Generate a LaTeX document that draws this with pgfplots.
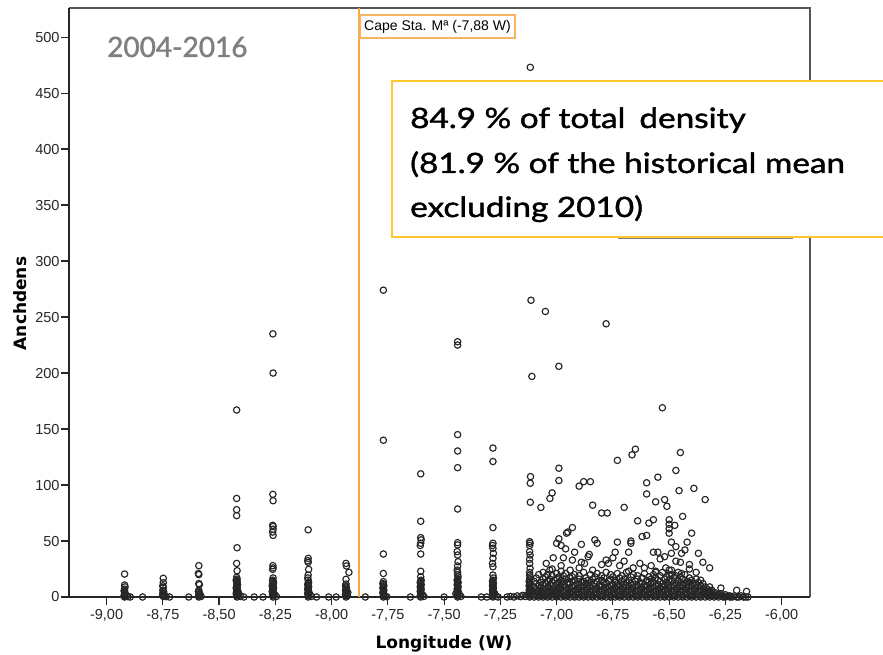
\documentclass[border=0pt]{standalone}
\usepackage{pgfplots}
\pgfplotsset{compat=1.18}
\usepackage{pgfplotstable}
\usepackage{fontspec}
\setmainfont{Liberation Sans}
\newfontfamily\boxfont{Lato}[FakeStretch=1.19, FakeBold=1.5]
\newfontfamily\yearfont{Lato}[FakeBold=1.5]
\newfontfamily\labfont{DejaVu Sans}
\definecolor{orangeline}{HTML}{F5A742}
\definecolor{goldbox}{HTML}{FFC72C}
\definecolor{framegray}{HTML}{555555}
\definecolor{titlegray}{HTML}{7F7F7F}

% stations west of the cape
\pgfplotstableread[row sep=\\]{
x y\\
-8.92 20.5\\ -8.92 10.7\\ -8.918 9\\ -8.92 7\\ -8.922 5.5\\ -8.92 4.5\\ -8.918 3.5\\ -8.92 2.5\\ -8.922 1.5\\ -8.92 0.8\\ -8.92 0\\ -8.912 1\\ -8.905 0.3\\ -8.895 0\\ -8.84 0\\
-8.748 16.7\\ -8.748 12.8\\ -8.75 10\\ -8.748 8.6\\ -8.75 6\\ -8.746 4.5\\ -8.75 3.5\\ -8.748 2.5\\ -8.75 1.5\\ -8.748 0.5\\ -8.742 1\\ -8.735 0.3\\ -8.72 0\\
-8.635 0\\ -8.59 28\\ -8.592 21\\ -8.59 20\\ -8.59 12\\ -8.588 11\\ -8.59 6\\ -8.592 5\\ -8.59 4\\ -8.588 3\\ -8.59 2\\ -8.59 1\\ -8.59 0\\ -8.585 2.5\\ -8.58 0.5\\
-8.422 167\\ -8.422 88\\ -8.422 78\\ -8.422 72.7\\ -8.42 44\\ -8.422 30\\ -8.42 23.5\\ -8.422 17.6\\ -8.42 16\\ -8.424 15\\ -8.42 14\\ -8.422 13\\ -8.42 12\\ -8.418 11\\ -8.422 10\\ -8.42 9\\ -8.424 8\\ -8.42 7\\ -8.418 6\\ -8.422 5\\ -8.42 4\\ -8.424 3\\ -8.42 2\\ -8.418 1\\ -8.42 0\\ -8.412 3\\ -8.405 0.5\\ -8.39 0\\ -8.344 0\\ -8.305 0\\
-8.261 235\\ -8.26 200\\ -8.261 91.7\\ -8.26 86\\ -8.262 64\\ -8.26 63\\ -8.26 60.5\\ -8.262 58\\ -8.26 55\\ -8.261 28\\ -8.26 26\\ -8.262 24.7\\ -8.26 17\\ -8.262 15\\ -8.26 14\\ -8.258 13\\ -8.262 12\\ -8.26 11\\ -8.264 10\\ -8.26 9\\ -8.258 8\\ -8.262 7\\ -8.26 6\\ -8.264 5\\ -8.26 4\\ -8.258 3\\ -8.262 2\\ -8.26 1\\ -8.26 0\\ -8.252 2\\ -8.245 0.5\\
-8.104 60\\ -8.104 34.5\\ -8.106 32.4\\ -8.104 31\\ -8.102 24.7\\ -8.104 19.6\\ -8.106 17\\ -8.104 15\\ -8.102 13\\ -8.104 12\\ -8.106 11\\ -8.104 10\\ -8.102 9\\ -8.104 8\\ -8.106 7\\ -8.104 6\\ -8.102 5\\ -8.104 4\\ -8.106 3\\ -8.104 2\\ -8.102 1\\ -8.104 0\\ -8.095 2\\ -8.09 0.5\\ -8.067 0\\ -8.013 0\\ -7.98 0\\
-7.936 30\\ -7.934 27.7\\ -7.923 22\\ -7.936 15.8\\ -7.936 11.6\\ -7.938 10\\ -7.936 9\\ -7.934 8\\ -7.936 7\\ -7.938 6\\ -7.936 5\\ -7.934 4\\ -7.936 3\\ -7.938 2\\ -7.936 1\\ -7.936 0\\ -7.928 4\\ -7.93 1\\
}\westtable

% stations and survey points east of the cape
\pgfplotstableread[row sep=\\]{
x y\\
-7.85 0\\
-7.77 274\\ -7.77 140\\ -7.77 38.4\\ -7.77 21\\ -7.77 13.7\\ -7.772 12\\ -7.77 11\\ -7.768 10\\ -7.77 9\\ -7.772 8\\ -7.77 7\\ -7.768 6\\ -7.77 5\\ -7.772 4\\ -7.77 3\\ -7.768 2\\ -7.77 1\\ -7.77 0\\ -7.762 1\\ -7.755 0.3\\ -7.65 0\\
-7.604 110\\ -7.604 67.6\\ -7.604 53\\ -7.602 51\\ -7.604 48\\ -7.606 46\\ -7.604 38.4\\ -7.604 23\\ -7.604 18\\ -7.602 15\\ -7.604 14\\ -7.606 13\\ -7.604 12\\ -7.602 11\\ -7.604 10\\ -7.606 9\\ -7.604 8\\ -7.602 7\\ -7.604 6\\ -7.606 5\\ -7.604 4\\ -7.602 3\\ -7.604 2\\ -7.606 1\\ -7.604 0\\ -7.596 2\\ -7.59 0.5\\
-7.50 0\\
-7.44 228\\ -7.44 225\\ -7.44 145\\ -7.44 130.4\\ -7.44 115.5\\ -7.44 78.6\\ -7.44 48.5\\ -7.44 46.5\\ -7.442 40.5\\ -7.44 37.5\\ -7.438 31.5\\ -7.44 27.7\\ -7.442 24\\ -7.44 22\\ -7.44 20\\ -7.438 18\\ -7.44 16\\ -7.442 15\\ -7.44 14\\ -7.438 13\\ -7.44 12\\ -7.442 11\\ -7.44 10\\ -7.438 9\\ -7.44 8\\ -7.442 7\\ -7.44 6\\ -7.438 5\\ -7.44 4\\ -7.442 3\\ -7.44 2\\ -7.438 1\\ -7.44 0\\ -7.432 2\\ -7.448 3\\ -7.425 0.5\\
-7.335 0\\ -7.31 0\\
-7.283 133\\ -7.283 121\\ -7.283 62\\ -7.283 48\\ -7.285 46\\ -7.283 43.5\\ -7.281 39\\ -7.283 34.6\\ -7.285 30\\ -7.283 27\\ -7.283 19.6\\ -7.281 17\\ -7.283 15\\ -7.285 14\\ -7.283 13\\ -7.281 12\\ -7.283 11\\ -7.285 10\\ -7.283 9\\ -7.281 8\\ -7.283 7\\ -7.285 6\\ -7.283 5\\ -7.281 4\\ -7.283 3\\ -7.285 2\\ -7.283 1\\ -7.283 0\\ -7.275 3\\ -7.268 0.5\\ -7.26 0\\
-7.22 0\\ -7.205 0.5\\ -7.19 0\\ -7.175 1\\ -7.16 0.3\\ -7.15 1.5\\ -7.14 0.5\\
-7.117 473\\ -7.114 265\\ -7.11 197\\ -7.116 107.5\\ -7.117 101.6\\ -7.117 84.6\\ -7.12 49.4\\ -7.118 48\\ -7.12 46\\ -7.12 40.5\\ -7.118 37.5\\ -7.12 33.7\\ -7.12 30\\ -7.118 25.6\\ -7.12 22\\ -7.12 19.6\\ -7.118 18\\ -7.12 16\\ -7.122 14\\ -7.12 13\\ -7.118 12\\ -7.12 11\\ -7.122 10\\ -7.12 9\\ -7.118 8\\ -7.12 7\\ -7.122 6\\ -7.12 5\\ -7.118 4\\ -7.12 3\\ -7.122 2\\ -7.12 1\\ -7.12 0\\ -7.112 5\\ -7.128 2\\
-7.05 255\\ -6.99 206\\ -6.78 244\\ -6.53 169\\ -6.65 132\\ -6.665 127\\ -6.45 129\\ -6.73 122\\ -6.99 115\\ -6.99 104\\ -6.47 113\\ -6.55 107\\ -6.60 102\\ -6.90 99\\ -6.88 103\\ -6.85 103\\ -7.02 93\\ -7.03 88\\ -6.60 92\\ -6.456 95\\ -6.39 97\\ -6.34 87\\ -6.56 85\\ -6.52 87\\ -6.51 81\\ -7.07 80\\ -6.84 82\\ -6.80 75\\ -6.775 75\\ -6.70 80\\ -6.44 72\\ -6.64 68\\ -6.59 66\\ -6.57 69\\ -6.50 69\\ -6.50 65\\ -6.475 64\\ -6.50 61\\ -6.50 57\\ -6.40 57\\ -6.95 58\\ -6.956 57\\ -6.93 62\\ -6.99 52\\ -7.00 48\\ -6.98 46\\ -6.96 43\\ -6.89 47\\ -6.83 51\\ -6.82 48\\ -6.73 49\\ -6.67 50\\ -6.67 48\\ -6.62 54\\ -6.60 55\\ -6.49 49\\ -6.42 49\\ -6.92 40\\ -6.855 38\\ -6.74 40\\ -6.68 40\\ -6.57 40\\ -6.55 40\\ -6.49 39\\ -6.445 39\\ -6.37 39\\ -7.046 30\\ -7.015 35\\ -6.97 35\\ -6.89 31\\ -6.876 30\\ -6.80 29\\ -6.77 30\\ -6.75 35\\ -6.70 32\\ -6.66 26\\ -6.61 26\\ -6.58 28\\ -6.54 34\\ -6.515 26\\ -6.47 32\\ -6.45 31\\ -6.41 29\\ -6.35 31\\ -6.32 26\\ -6.41 25\\ -6.445 21\\ -6.50 24\\ -6.36 15\\ -6.32 9\\ -6.20 6\\ -6.156 5\\ -6.27 8\\
-6.93 33\\ -6.86 36\\ -6.78 33\\ -6.72 28\\ -6.63 30\\ -6.52 36\\ -6.47 45\\ -6.43 42\\ -6.38 22\\ -7.03 24\\ -6.98 28\\ -6.90 26\\ -6.84 24\\ -6.68 23\\ -6.56 22\\ -6.49 20\\
-7.10 0\\ -7.10 2\\ -7.10 5\\ -7.10 9\\ -7.10 14\\ -7.09 1\\ -7.09 4\\ -7.09 7\\ -7.09 12\\ -7.09 17\\ -7.08 0\\ -7.08 3\\ -7.08 6\\ -7.08 10\\ -7.08 20\\ -7.07 1\\ -7.07 2\\ -7.07 8\\ -7.07 13\\
-7.06 0\\ -7.06 4\\ -7.06 6\\ -7.06 11\\ -7.06 16\\ -7.06 22\\ -7.05 1\\ -7.05 3\\ -7.05 7\\ -7.05 12\\ -7.05 18\\ -7.04 0\\ -7.04 2\\ -7.04 5\\ -7.04 9\\ -7.04 14\\ -7.04 20\\ -7.03 1\\ -7.03 4\\ -7.03 8\\ -7.03 11\\ -7.03 16\\
-7.02 0\\ -7.02 3\\ -7.02 6\\ -7.02 10\\ -7.02 13\\ -7.02 19\\ -7.02 25\\ -7.01 2\\ -7.01 5\\ -7.01 8\\ -7.01 15\\ -7.00 0\\ -7.00 1\\ -7.00 4\\ -7.00 7\\ -7.00 11\\ -7.00 17\\ -7.00 21\\ -6.99 2\\ -6.99 3\\ -6.99 6\\ -6.99 9\\ -6.99 13\\ -6.99 18\\
-6.98 0\\ -6.98 4\\ -6.98 8\\ -6.98 12\\ -6.98 15\\ -6.98 23\\ -6.97 1\\ -6.97 5\\ -6.97 10\\ -6.97 14\\ -6.97 19\\ -6.96 0\\ -6.96 2\\ -6.96 6\\ -6.96 9\\ -6.96 16\\ -6.96 21\\ -6.95 1\\ -6.95 3\\ -6.95 7\\ -6.95 11\\ -6.95 13\\
-6.94 0\\ -6.94 4\\ -6.94 8\\ -6.94 12\\ -6.94 17\\ -6.94 24\\ -6.93 2\\ -6.93 5\\ -6.93 9\\ -6.93 14\\ -6.93 18\\ -6.92 0\\ -6.92 1\\ -6.92 6\\ -6.92 10\\ -6.92 15\\ -6.92 20\\ -6.91 2\\ -6.91 4\\ -6.91 7\\ -6.91 12\\
-6.90 0\\ -6.90 3\\ -6.90 8\\ -6.90 11\\ -6.90 16\\ -6.90 19\\ -6.89 1\\ -6.89 5\\ -6.89 9\\ -6.89 13\\ -6.88 0\\ -6.88 2\\ -6.88 6\\ -6.88 10\\ -6.88 14\\ -6.88 22\\ -6.87 1\\ -6.87 4\\ -6.87 7\\ -6.87 12\\ -6.87 17\\
-6.86 0\\ -6.86 3\\ -6.86 8\\ -6.86 11\\ -6.86 15\\ -6.85 2\\ -6.85 5\\ -6.85 9\\ -6.85 13\\ -6.85 20\\ -6.84 0\\ -6.84 1\\ -6.84 6\\ -6.84 10\\ -6.84 16\\ -6.83 2\\ -6.83 4\\ -6.83 7\\ -6.83 12\\ -6.83 18\\
-6.82 0\\ -6.82 3\\ -6.82 8\\ -6.82 14\\ -6.82 21\\ -6.81 1\\ -6.81 5\\ -6.81 9\\ -6.81 11\\ -6.80 0\\ -6.80 2\\ -6.80 6\\ -6.80 10\\ -6.80 15\\ -6.80 19\\ -6.79 1\\ -6.79 4\\ -6.79 7\\ -6.79 13\\ -6.79 17\\
-6.78 0\\ -6.78 3\\ -6.78 8\\ -6.78 12\\ -6.78 22\\ -6.77 2\\ -6.77 5\\ -6.77 9\\ -6.77 14\\ -6.76 0\\ -6.76 1\\ -6.76 6\\ -6.76 10\\ -6.76 16\\ -6.76 20\\ -6.75 2\\ -6.75 4\\ -6.75 7\\ -6.75 11\\ -6.75 18\\
-6.74 0\\ -6.74 3\\ -6.74 8\\ -6.74 13\\ -6.74 15\\ -6.73 1\\ -6.73 5\\ -6.73 9\\ -6.73 12\\ -6.73 21\\ -6.72 0\\ -6.72 2\\ -6.72 6\\ -6.72 10\\ -6.72 17\\ -6.71 1\\ -6.71 4\\ -6.71 7\\ -6.71 14\\ -6.71 19\\
-6.70 0\\ -6.70 3\\ -6.70 8\\ -6.70 11\\ -6.70 16\\ -6.69 2\\ -6.69 5\\ -6.69 9\\ -6.69 13\\ -6.69 22\\ -6.68 0\\ -6.68 1\\ -6.68 6\\ -6.68 10\\ -6.68 15\\ -6.67 2\\ -6.67 4\\ -6.67 7\\ -6.67 12\\ -6.67 18\\
-6.66 0\\ -6.66 3\\ -6.66 8\\ -6.66 11\\ -6.66 20\\ -6.65 1\\ -6.65 5\\ -6.65 9\\ -6.65 14\\ -6.64 0\\ -6.64 2\\ -6.64 6\\ -6.64 10\\ -6.64 16\\ -6.64 19\\ -6.63 1\\ -6.63 4\\ -6.63 7\\ -6.63 13\\
-6.62 0\\ -6.62 3\\ -6.62 8\\ -6.62 12\\ -6.62 17\\ -6.61 2\\ -6.61 5\\ -6.61 9\\ -6.61 11\\ -6.61 21\\ -6.60 0\\ -6.60 1\\ -6.60 6\\ -6.60 10\\ -6.60 15\\ -6.59 2\\ -6.59 4\\ -6.59 7\\ -6.59 14\\ -6.59 18\\
-6.58 0\\ -6.58 3\\ -6.58 8\\ -6.58 12\\ -6.58 16\\ -6.57 1\\ -6.57 5\\ -6.57 9\\ -6.57 13\\ -6.57 20\\ -6.56 0\\ -6.56 2\\ -6.56 6\\ -6.56 10\\ -6.56 17\\ -6.56 23\\ -6.55 1\\ -6.55 4\\ -6.55 7\\ -6.55 11\\ -6.55 15\\
-6.54 0\\ -6.54 3\\ -6.54 8\\ -6.54 14\\ -6.54 19\\ -6.53 2\\ -6.53 5\\ -6.53 9\\ -6.53 12\\ -6.53 22\\ -6.52 0\\ -6.52 1\\ -6.52 6\\ -6.52 10\\ -6.52 16\\ -6.51 2\\ -6.51 4\\ -6.51 7\\ -6.51 13\\ -6.51 18\\
-6.50 0\\ -6.50 3\\ -6.50 8\\ -6.50 11\\ -6.50 15\\ -6.50 20\\ -6.49 1\\ -6.49 5\\ -6.49 9\\ -6.49 14\\ -6.49 24\\ -6.48 0\\ -6.48 2\\ -6.48 6\\ -6.48 10\\ -6.48 17\\ -6.47 1\\ -6.47 4\\ -6.47 7\\ -6.47 12\\ -6.47 19\\
-6.46 0\\ -6.46 3\\ -6.46 8\\ -6.46 11\\ -6.46 15\\ -6.46 22\\ -6.45 2\\ -6.45 5\\ -6.45 9\\ -6.45 13\\ -6.45 18\\ -6.44 0\\ -6.44 1\\ -6.44 6\\ -6.44 10\\ -6.44 16\\ -6.43 2\\ -6.43 4\\ -6.43 7\\ -6.43 12\\ -6.43 20\\
-6.42 0\\ -6.42 3\\ -6.42 8\\ -6.42 11\\ -6.42 14\\ -6.41 1\\ -6.41 5\\ -6.41 9\\ -6.41 13\\ -6.41 17\\ -6.40 0\\ -6.40 2\\ -6.40 6\\ -6.40 10\\ -6.40 15\\ -6.39 1\\ -6.39 4\\ -6.39 7\\ -6.39 12\\
-6.38 0\\ -6.38 3\\ -6.38 8\\ -6.38 11\\ -6.38 16\\ -6.37 2\\ -6.37 5\\ -6.37 9\\ -6.37 13\\ -6.36 0\\ -6.36 1\\ -6.36 6\\ -6.36 10\\ -6.35 2\\ -6.35 4\\ -6.35 7\\ -6.35 12\\ -6.34 0\\ -6.34 3\\ -6.34 5\\ -6.34 9\\
-6.33 1\\ -6.33 4\\ -6.33 7\\ -6.32 0\\ -6.32 2\\ -6.32 5\\ -6.31 1\\ -6.31 3\\ -6.31 6\\ -6.30 0\\ -6.30 2\\ -6.30 4\\ -6.29 1\\ -6.29 3\\ -6.28 0\\ -6.28 2\\ -6.27 1\\ -6.27 3\\ -6.26 0\\ -6.26 1\\ -6.25 0\\ -6.25 2\\
-6.24 1\\ -6.23 0\\ -6.23 1\\ -6.22 0\\ -6.21 1\\ -6.20 0\\ -6.19 0\\ -6.18 1\\ -6.17 0\\ -6.16 0\\ -6.15 0\\
}\easttable

\begin{document}
\begin{tikzpicture}
\useasboundingbox (0,0) rectangle (883pt,654pt);
\begin{axis}[
  at={(69pt,57pt)}, anchor=south west,
  scale only axis, width=741pt, height=589pt,
  xmin=-9.167, xmax=-5.874, ymin=0, ymax=526,
  axis line style={draw=none},
  tick pos=left, tick align=outside, major tick length=8pt,
  tick style={black!85, line width=1.2pt},
  xtick={-9,-8.75,-8.5,-8.25,-8,-7.75,-7.5,-7.25,-7,-6.75,-6.5,-6.25,-6},
  xticklabels={{-9,00},{-8,75},{-8,50},{-8,25},{-8,00},{-7,75},{-7,50},{-7,25},{-7,00},{-6,75},{-6,50},{-6,25},{-6,00}},
  ytick={0,50,100,150,200,250,300,350,400,450,500},
  yticklabels={0,50,100,150,200,250,300,350,400,450,500},
  tick label style={font=\fontsize{14.5}{17}\selectfont, text=black!85},
  xticklabel style={yshift=-1pt},
  yticklabel style={xshift=2pt},
  clip=false,
]
\addplot[only marks, mark=o, mark size=3.2pt, mark options={line width=1.15pt, draw=black!85}] table[x=x,y=y]{\westtable};
\addplot[only marks, mark=o, mark size=3.2pt, mark options={line width=1.15pt, draw=black!85}] table[x=x,y=y]{\easttable};
\draw[framegray, line width=1.5pt] (rel axis cs:0,1) -- (rel axis cs:1,1) -- (rel axis cs:1,0);
\draw[black!85, line width=1.5pt] (rel axis cs:0,1) -- (rel axis cs:0,0) -- (rel axis cs:1,0);
\draw[orangeline, line width=2pt] (axis cs:-7.88,0) -- (axis cs:-7.88,526);
\end{axis}
% cape label
\node[draw=orangeline!85, line width=1.5pt, fill=white, minimum width=155pt, minimum height=23pt, inner sep=0pt, font=\fontsize{14}{16}\selectfont] at (437.5pt,627.5pt) {Cape Sta. Mª (-7,88 W)};
% hidden legend edge
\draw[gray, line width=2pt] (618pt,416pt) -- (793pt,416pt);
% annotation box
\draw[goldbox, line width=1.5pt, fill=white] (392pt,573pt) rectangle (905pt,417pt);
\node[anchor=base west, inner sep=0pt, font=\boxfont\fontsize{28}{34}\selectfont] at (410pt,526pt) {84.9 \% of total\hspace{0.5em}density};
\node[anchor=base west, inner sep=0pt, font=\boxfont\fontsize{28}{34}\selectfont] at (410pt,481pt) {(81.9 \% of the historical mean};
\node[anchor=base west, inner sep=0pt, font=\boxfont\fontsize{28}{34}\selectfont] at (410pt,437pt) {excluding 2010)};
% period
\node[anchor=base west, inner sep=0pt, text=titlegray, font=\yearfont\fontsize{28}{34}\selectfont] at (107pt,597pt) {2004-2016};
% axis titles
\node[anchor=base, inner sep=0pt, font=\labfont\bfseries\fontsize{17}{20}\selectfont] at (444pt,6pt) {Longitude (W)};
\node[anchor=base, rotate=90, inner sep=0pt, font=\labfont\bfseries\fontsize{17}{20}\selectfont] at (26.7pt,350.5pt) {Anchdens};
\end{tikzpicture}
\end{document}
